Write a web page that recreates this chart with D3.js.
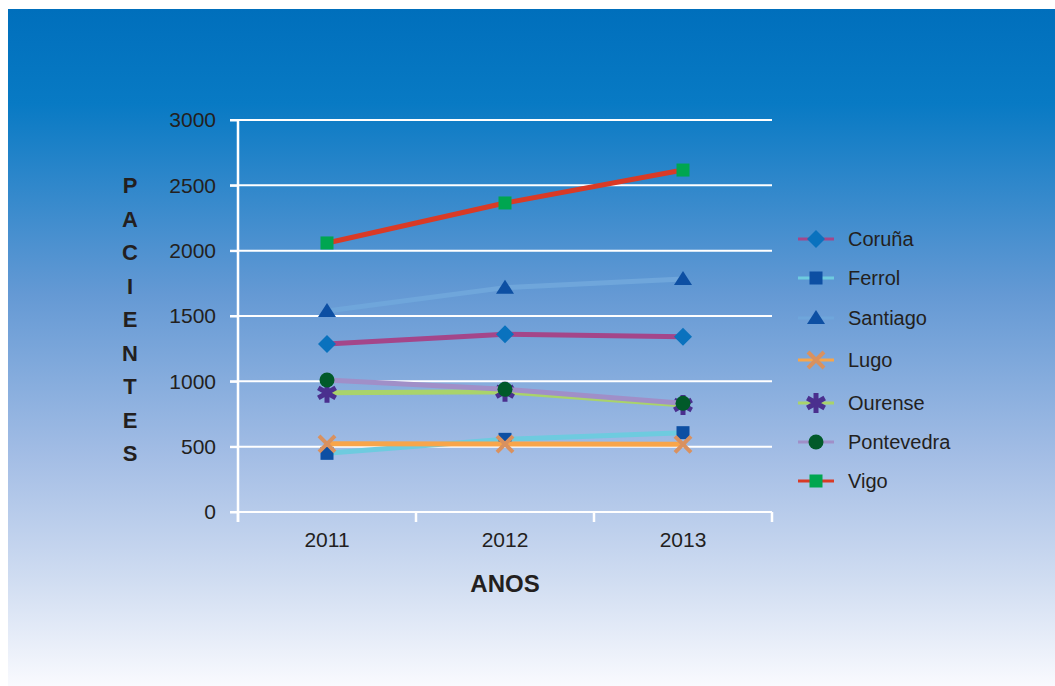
<!DOCTYPE html>
<html>
<head>
<meta charset="utf-8">
<script src="https://cdnjs.cloudflare.com/ajax/libs/d3/7.8.5/d3.min.js"></script>
<style>
  body { margin: 0; background: #fff; }
  text { font-family: "Liberation Sans", Arial, sans-serif; fill: #231f20; }
</style>
</head>
<body>
<svg id="chart" width="1055" height="686"></svg>
<script>
// data
var years = ["2011", "2012", "2013"];
var yTicks = [0, 500, 1000, 1500, 2000, 2500, 3000];
var coruna = [1286, 1360, 1342];
var ferrol = [449, 556, 607];
var santiago = [1538, 1717, 1783];
var lugo = [522, 520, 518];
var ourense = [912, 921, 819];
var pontevedra = [1010, 939, 832];
var vigo = [2059, 2365, 2617];

var series = [
  {name: "Coruña", values: coruna, line: "#a4468a", mark: "#0a72be", shape: "diamond"},
  {name: "Ferrol", values: ferrol, line: "#6ecbdf", mark: "#0d4fa3", shape: "square"},
  {name: "Santiago", values: santiago, line: "#6fa6db", mark: "#0d4fa3", shape: "triangle"},
  {name: "Lugo", values: lugo, line: "#f8a54a", mark: "#d9915f", shape: "x"},
  {name: "Ourense", values: ourense, line: "#a9d36b", mark: "#4a2f8e", shape: "star"},
  {name: "Pontevedra", values: pontevedra, line: "#a08fc8", mark: "#015a2a", shape: "circle"},
  {name: "Vigo", values: vigo, line: "#d93a26", mark: "#00a650", shape: "square"}
];

function drawChart() {
  var svg = d3.select("#chart");

  // background gradient
  var grad = svg.append("defs").append("linearGradient")
      .attr("id", "bg").attr("x1", 0).attr("y1", 0).attr("x2", 0).attr("y2", 1);
  [[0, "#006fbc"], [0.14, "#087ac4"], [0.42, "#6499d4"], [0.66, "#a3bde5"], [0.84, "#cfdcf1"], [1, "#f9fafe"]]
    .forEach(function(s) { grad.append("stop").attr("offset", s[0]).attr("stop-color", s[1]); });
  svg.append("rect").attr("x", 8).attr("y", 9).attr("width", 1047).attr("height", 677).attr("fill", "url(#bg)");

  var left = 238, right = 772, plotTop = 120, bottom = 512;

  var x = d3.scaleBand().domain(years).range([left, right]);
  var y = d3.scaleLinear().domain([0, 3000]).range([bottom, plotTop]);

  // grid lines
  svg.append("g").selectAll("line").data(yTicks).enter().append("line")
      .attr("x1", left - 8).attr("x2", right)
      .attr("y1", function(d) { return y(d); }).attr("y2", function(d) { return y(d); })
      .attr("stroke", "#fff").attr("stroke-width", 2);

  // y axis
  var yAxis = svg.append("g").attr("transform", "translate(" + left + ",0)")
      .call(d3.axisLeft(y).tickValues(yTicks).tickFormat(d3.format("d")).tickSize(8).tickPadding(14));
  yAxis.select(".domain").attr("stroke", "#fff").attr("stroke-width", 2.5)
      .attr("d", "M0," + plotTop + "V" + (bottom + 10));
  yAxis.selectAll(".tick line").attr("stroke", "#fff").attr("stroke-width", 2);
  yAxis.selectAll(".tick text").style("font-size", "21px").attr("fill", "#231f20")
      .style("font-family", "'Liberation Sans', Arial, sans-serif");

  // x axis
  var xAxis = svg.append("g").attr("transform", "translate(0," + bottom + ")")
      .call(d3.axisBottom(x).tickSize(0).tickPadding(20));
  xAxis.select(".domain").remove();
  xAxis.selectAll(".tick text").style("font-size", "21px").attr("fill", "#231f20")
      .style("font-family", "'Liberation Sans', Arial, sans-serif");
  svg.append("g").selectAll("line").data(years.concat(["end"])).enter().append("line")
      .attr("x1", function(d, i) { return left + i * x.bandwidth(); })
      .attr("x2", function(d, i) { return left + i * x.bandwidth(); })
      .attr("y1", bottom).attr("y2", bottom + 10)
      .attr("stroke", "#fff").attr("stroke-width", 2.5);

  // axis titles
  svg.append("text").attr("x", 505).attr("y", 592).attr("text-anchor", "middle")
      .style("font-size", "24px").style("font-weight", "bold").text("ANOS");
  svg.append("text").attr("x", 130).attr("y", 193).attr("text-anchor", "middle")
      .style("font-size", "22px").style("font-weight", "bold")
      .selectAll("tspan").data("PACIENTES".split("")).enter().append("tspan")
      .attr("x", 130).attr("dy", function(d, i) { return i === 0 ? 0 : 33.5; })
      .text(function(d) { return d; });

  function drawMark(g, shape, color) {
    if (shape === "diamond") {
      g.append("path").attr("d", "M0,-9L9,0L0,9L-9,0Z").attr("fill", color);
    } else if (shape === "square") {
      g.append("rect").attr("x", -6.5).attr("y", -6.5).attr("width", 13).attr("height", 13).attr("fill", color);
    } else if (shape === "triangle") {
      g.append("path").attr("d", "M0,-8L9,6L-9,6Z").attr("fill", color);
    } else if (shape === "circle") {
      g.append("circle").attr("r", 7.5).attr("fill", color);
    } else if (shape === "x") {
      g.append("path").attr("d", "M-8,-8L8,8M8,-8L-8,8").attr("stroke", color).attr("stroke-width", 4);
    } else if (shape === "star") {
      g.append("path").attr("d", "M0,-10V10M-8.7,-5L8.7,5M8.7,-5L-8.7,5")
          .attr("stroke", color).attr("stroke-width", 5);
    }
  }

  var line = d3.line()
      .x(function(d, i) { return x(years[i]) + x.bandwidth() / 2; })
      .y(function(d) { return y(d); });

  series.forEach(function(s) {
    svg.append("path").datum(s.values).attr("d", line)
        .attr("fill", "none").attr("stroke", s.line).attr("stroke-width", 5);
    s.values.forEach(function(v, i) {
      var g = svg.append("g").attr("transform", "translate(" + (x(years[i]) + x.bandwidth() / 2) + "," + y(v) + ")");
      drawMark(g, s.shape, s.mark);
    });
  });

  // legend
  var legendY = [239, 278, 318, 360, 403, 442, 481];
  series.forEach(function(s, i) {
    var g = svg.append("g").attr("transform", "translate(816," + legendY[i] + ")");
    g.append("line").attr("x1", -18).attr("x2", 18).attr("stroke", s.line).attr("stroke-width", 3);
    drawMark(g, s.shape, s.mark);
    g.append("text").attr("x", 32).attr("y", 7).style("font-size", "20px").text(s.name);
  });
}

drawChart();
</script>
</body>
</html>
